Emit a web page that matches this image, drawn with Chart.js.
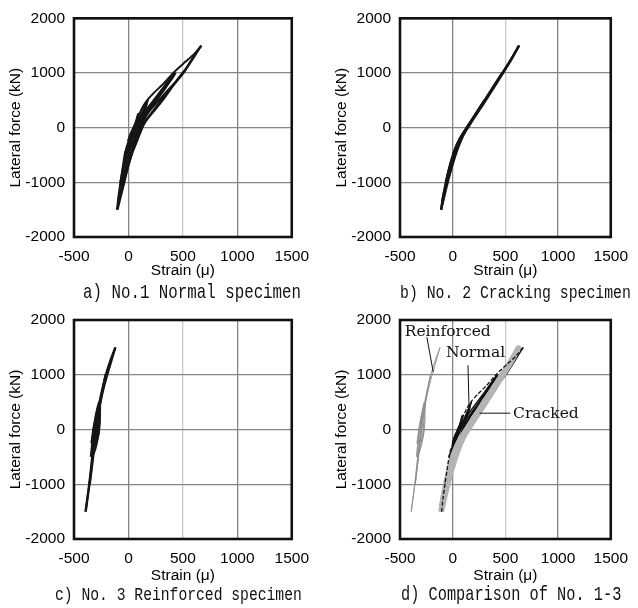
<!DOCTYPE html>
<html>
<head>
<meta charset="utf-8">
<script src="https://cdn.jsdelivr.net/npm/chart.js@4.4.1/dist/chart.umd.min.js"></script>
<style>
  body { margin: 0; background: #fff; width: 638px; height: 608px; position: relative; overflow: hidden; }
  canvas { position: absolute; }
  .cap { position: absolute; font-family: "Liberation Mono", "DejaVu Sans Mono", monospace;
         line-height: 18px; white-space: pre; color: #111; transform: scaleY(1.3); transform-origin: left center; }
</style>
</head>
<body>
<canvas id="chartA" width="319" height="300" style="left:0;top:0"></canvas>
<canvas id="chartB" width="319" height="300" style="left:319px;top:0"></canvas>
<canvas id="chartC" width="319" height="308" style="left:0;top:300px"></canvas>
<canvas id="chartD" width="319" height="308" style="left:319px;top:300px"></canvas>
<div class="cap" style="left:83px;top:284px;font-size:15.8px">a) No.1 Normal specimen</div>
<div class="cap" style="left:400px;top:284px;font-size:14.8px">b) No. 2 Cracking specimen</div>
<div class="cap" style="left:55px;top:586px;font-size:14.7px">c) No. 3 Reinforced specimen</div>
<div class="cap" style="left:401px;top:586px;font-size:15.3px">d) Comparison of No. 1-3</div>
<script>
// axis ticks
const strainTicks = [-500, 0, 500, 1000, 1500];
const forceTicks = [-2000, -1000, 0, 1000, 2000];

// No.1 Normal specimen  [strain (μ), lateral force (kN)]
const normalCyc250a = [[-5,-250],[15,-130],[45,0],[70,120],[88,250],[80,150],[68,30],[48,-80],[20,-180],[-5,-250]];
const normalCyc250b = [[0,-250],[25,-110],[55,20],[78,140],[95,260],[86,140],[72,10],[45,-110],[18,-200],[0,-250]];
const normalCyc500a = [[-35,-500],[-5,-320],[30,-140],[70,30],[110,210],[145,360],[178,500],[160,400],[135,260],[110,110],[85,-30],[50,-200],[10,-360],[-35,-500]];
const normalCyc500b = [[-30,-500],[0,-320],[38,-140],[80,40],[120,220],[150,370],[172,490],[162,380],[142,250],[118,110],[92,-30],[58,-210],[15,-370],[-30,-500]];
const normalCyc1000a = [[-75,-1000],[-55,-800],[-30,-560],[0,-330],[40,-120],[80,60],[130,230],[200,420],[300,680],[420,1000],[380,870],[320,700],[260,530],[200,360],[150,200],[115,50],[85,-110],[50,-300],[10,-540],[-25,-770],[-75,-1000]];
const normalCyc1000b = [[-70,-1000],[-48,-790],[-22,-550],[8,-330],[48,-130],[90,50],[140,210],[215,410],[310,660],[430,990],[395,880],[335,710],[270,530],[210,360],[160,200],[125,60],[95,-100],[60,-290],[20,-520],[-20,-760],[-70,-1000]];
const normalUp1500 = [[-105,-1500],[-92,-1260],[-72,-980],[-52,-720],[-30,-450],[10,-200],[62,20],[95,220],[135,390],[180,520],[240,650],[320,800],[420,1020],[520,1200],[600,1340],[670,1500]];
const normalDown1500 = [[670,1500],[590,1270],[510,1010],[420,790],[330,540],[250,340],[175,160],[135,30],[110,-90],[75,-270],[37,-450],[5,-650],[-24,-870],[-50,-1070],[-78,-1270],[-105,-1500]];
const normalRe1500 = [[-100,-1500],[-80,-1250],[-55,-990],[-28,-740],[0,-500],[40,-270],[85,-60],[130,120],[190,300],[270,480],[360,680],[460,900],[560,1160],[660,1480],[600,1300],[520,1060],[440,860],[350,620],[270,420],[200,240],[150,100],[118,-20],[88,-170],[55,-350],[20,-560],[-12,-790],[-45,-1060],[-75,-1300],[-100,-1500]];

// No.2 Cracking specimen
const crackedCyc500 = [[0,-500],[30,-350],[70,-190],[115,-50],[160,80],[220,260],[300,500],[245,330],[190,170],[145,40],[105,-100],[65,-260],[30,-400],[0,-500]];
const crackedCyc1000 = [[-65,-1000],[-40,-800],[-12,-600],[20,-420],[60,-240],[105,-90],[155,50],[215,230],[290,460],[375,720],[470,1000],[400,790],[325,560],[250,340],[185,150],[140,20],[95,-140],[50,-340],[15,-540],[-20,-760],[-45,-900],[-65,-1000]];
const crackedUp1500 = [[-110,-1500],[-95,-1300],[-72,-1060],[-48,-850],[-22,-650],[8,-470],[45,-290],[90,-130],[140,10],[200,190],[280,430],[370,700],[460,970],[550,1240],[630,1500]];
const crackedDown1500 = [[630,1500],[548,1215],[462,950],[372,675],[290,430],[220,230],[170,90],[125,-50],[80,-230],[40,-430],[5,-640],[-25,-840],[-55,-1060],[-82,-1280],[-110,-1500]];
const crackedRe1500 = [[-108,-1500],[-88,-1290],[-62,-1050],[-36,-840],[-8,-640],[22,-460],[60,-280],[105,-120],[152,20],[210,200],[292,440],[380,710],[470,985],[555,1250],[625,1490],[540,1200],[452,930],[362,660],[278,420],[208,215],[158,70],[112,-70],[66,-250],[26,-450],[-10,-660],[-40,-860],[-70,-1080],[-95,-1300],[-108,-1500]];

// No.3 Reinforced specimen
const reinforcedCyc250a = [[-340,-250],[-330,-110],[-320,30],[-306,160],[-294,250],[-286,130],[-280,0],[-288,-120],[-312,-220],[-340,-250]];
const reinforcedCyc250b = [[-332,-260],[-322,-120],[-311,10],[-300,140],[-288,240],[-278,110],[-272,-10],[-282,-140],[-305,-230],[-332,-260]];
const reinforcedCyc500a = [[-345,-500],[-335,-300],[-325,-100],[-312,100],[-295,300],[-270,500],[-268,330],[-270,150],[-282,-60],[-300,-250],[-322,-420],[-345,-500]];
const reinforcedCyc500b = [[-338,-470],[-328,-270],[-316,-60],[-302,150],[-286,340],[-262,480],[-262,300],[-264,110],[-276,-90],[-296,-290],[-318,-430],[-338,-470]];
const reinforcedCyc1000 = [[-355,-1000],[-340,-760],[-325,-520],[-312,-280],[-298,-20],[-282,240],[-260,500],[-235,760],[-210,1000],[-232,780],[-255,540],[-275,300],[-292,60],[-308,-200],[-322,-450],[-338,-720],[-355,-1000]];
const reinforcedUp1500 = [[-395,-1500],[-378,-1260],[-362,-1020],[-348,-780],[-335,-540],[-320,-280],[-305,-20],[-290,230],[-268,480],[-240,740],[-208,1000],[-168,1250],[-120,1500]];
const reinforcedDown1500 = [[-120,1500],[-160,1230],[-200,960],[-232,720],[-258,480],[-278,240],[-295,0],[-312,-250],[-328,-500],[-343,-760],[-358,-1000],[-375,-1250],[-392,-1500]];

// callouts in panel d (data units)
const calloutLabels = [
  { text: 'Reinforced', x: -455, y: 1776 },
  { text: 'Normal', x: -64, y: 1392 },
  { text: 'Cracked', x: 573, y: 277 }
];
const calloutLeaders = [
  [[-245, 1686], [-185, 1051]],
  [[145, 1175], [155, 445]],
  [[255, 298], [545, 298]]
];

const normalSet = [normalCyc250a, normalCyc250b, normalCyc500a, normalCyc500b, normalCyc1000a, normalCyc1000b, normalRe1500, normalUp1500, normalDown1500];
const crackedSet = [crackedCyc500, crackedCyc1000, crackedRe1500, crackedUp1500, crackedDown1500];
const reinforcedSet = [reinforcedCyc250a, reinforcedCyc250b, reinforcedCyc500a, reinforcedCyc500b, reinforcedCyc1000, reinforcedUp1500, reinforcedDown1500];

const toXY = arr => arr.map(([x, y]) => ({ x: x, y: y }));

function lineSet(arr, color, width, dash) {
  return {
    data: toXY(arr), showLine: true, borderColor: color, borderWidth: width,
    borderDash: dash || [], pointRadius: 0, tension: 0.2, fill: false
  };
}

const framePlugin = {
  id: 'frame',
  afterDatasetsDraw(chart) {
    const { ctx, chartArea: a } = chart;
    ctx.save();
    ctx.strokeStyle = '#111';
    ctx.lineWidth = 2.6;
    ctx.strokeRect(a.left, a.top, a.right - a.left, a.bottom - a.top);
    ctx.restore();
  }
};

const calloutPlugin = {
  id: 'callouts',
  afterDatasetsDraw(chart) {
    const { ctx, scales: { x, y } } = chart;
    ctx.save();
    ctx.strokeStyle = '#111';
    ctx.lineWidth = 1;
    calloutLeaders.forEach(([p, q]) => {
      ctx.beginPath();
      ctx.moveTo(x.getPixelForValue(p[0]), y.getPixelForValue(p[1]));
      ctx.lineTo(x.getPixelForValue(q[0]), y.getPixelForValue(q[1]));
      ctx.stroke();
    });
    ctx.font = '15.5px "DejaVu Serif", serif';
    ctx.fillStyle = '#111';
    ctx.textBaseline = 'middle';
    calloutLabels.forEach(l => ctx.fillText(l.text, x.getPixelForValue(l.x), y.getPixelForValue(l.y)));
    ctx.restore();
  }
};

const tickFont = { family: '"Liberation Sans", Arial, sans-serif', size: 15.5 };
const titleFont = { family: '"Liberation Sans", Arial, sans-serif', size: 15.5 };

function makePanel(id, g, datasets, extra) {
  return new Chart(document.getElementById(id), {
    type: 'scatter',
    data: { datasets: datasets },
    options: {
      responsive: false,
      animation: false,
      layout: { padding: { left: 0, top: g.top, right: g.right, bottom: 0 } },
      plugins: { legend: { display: false }, tooltip: { enabled: false } },
      scales: {
        x: {
          type: 'linear', min: -500, max: 1500,
          afterBuildTicks: s => { s.ticks = strainTicks.map(v => ({ value: v })); },
          afterFit: s => { s.height = g.xh; },
          ticks: { padding: 10, color: '#000', font: tickFont, maxRotation: 0, autoSkip: false, callback: v => String(v) },
          grid: { drawTicks: false, lineWidth: 1.3, color: c => (c.tick && c.tick.value === 500) ? '#c8c8c8' : '#858585' },
          border: { display: false },
          title: { display: true, text: 'Strain (μ)', color: '#000', font: titleFont, padding: { top: 0, bottom: g.xtp } }
        },
        y: {
          type: 'linear', min: -2000, max: 2000,
          afterBuildTicks: s => { s.ticks = forceTicks.map(v => ({ value: v })); },
          afterFit: s => { s.width = g.yw; },
          ticks: { padding: 9, color: '#000', font: tickFont, autoSkip: false, callback: v => String(v) },
          grid: { drawTicks: false, lineWidth: 1.3, color: '#858585' },
          border: { display: false },
          title: { display: true, text: 'Lateral force (kN)', color: '#000', font: titleFont, padding: { top: g.ytp, bottom: 0 } }
        }
      }
    },
    plugins: [framePlugin].concat(extra || [])
  });
}

const geomA = { yw: 74, top: 17, right: 26, xh: 63, xtp: 20, ytp: 6 };
const geomB = { yw: 81, top: 17, right: 18, xh: 63, xtp: 20, ytp: 13 };
const geomC = { yw: 74, top: 20, right: 26, xh: 69, xtp: 23, ytp: 6 };
const geomD = { yw: 81, top: 20, right: 18, xh: 69, xtp: 23, ytp: 13 };

makePanel('chartA', geomA, normalSet.map(a => lineSet(a, '#151515', 2)));
makePanel('chartB', geomB, crackedSet.map(a => lineSet(a, '#151515', 2.2)));
makePanel('chartC', geomC, reinforcedSet.map(a => lineSet(a, '#151515', 2.2)));

// dashed loading branch on top, then the cracked band, then normal loops, then reinforced
const compareSets = [lineSet(normalUp1500, '#111', 1.3, [4, 2])]
  .concat(crackedSet.map(a => lineSet(a, '#b4b4b4', 5.5)))
  .concat(normalSet.filter(a => a !== normalUp1500).map(a => lineSet(a, '#111', 1.3)))
  .concat(reinforcedSet.map(a => lineSet(a, '#8c8c8c', 0.9)));
makePanel('chartD', geomD, compareSets, [calloutPlugin]);
</script>
</body>
</html>
